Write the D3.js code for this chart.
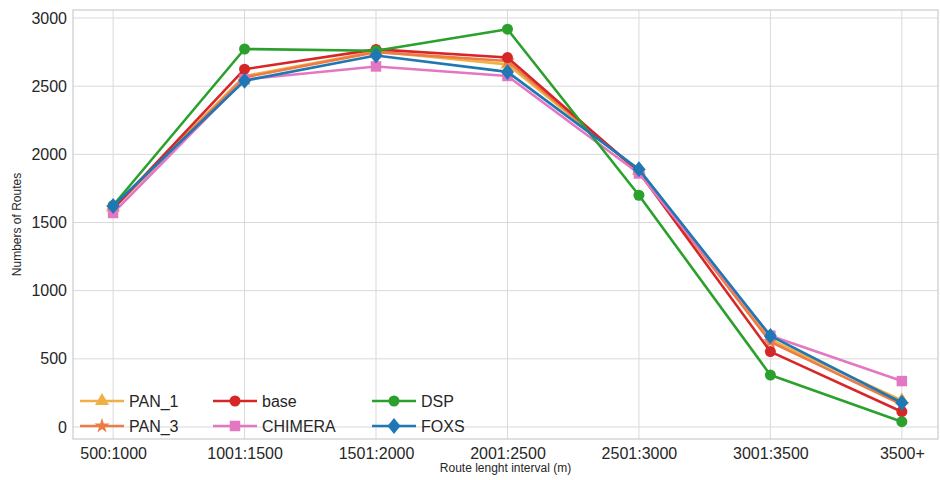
<!DOCTYPE html>
<html>
<head>
<meta charset="utf-8">
<script src="https://cdn.jsdelivr.net/npm/d3@7"></script>
<style>
  body { margin: 0; background: #fff; }
  text { font-family: "Liberation Sans", Arial, sans-serif; }
</style>
</head>
<body>
<div id="chart"></div>
<script>
// data
var categories = ["500:1000", "1001:1500", "1501:2000", "2001:2500", "2501:3000", "3001:3500", "3500+"];
var pan1 = [1610, 2575, 2755, 2660, 1880, 640, 195];
var pan3 = [1605, 2565, 2750, 2685, 1875, 625, 165];
var base = [1600, 2625, 2770, 2710, 1870, 553, 112];
var chimera = [1570, 2550, 2645, 2575, 1860, 670, 337];
var dsp = [1625, 2773, 2760, 2918, 1700, 381, 39];
var foxs = [1621, 2540, 2725, 2605, 1890, 668, 178];
var yTicks = [0, 500, 1000, 1500, 2000, 2500, 3000];

var series = [
  { name: "PAN_1", values: pan1, color: "#eeb145", marker: "triangle" },
  { name: "PAN_3", values: pan3, color: "#ec7b46", marker: "star" },
  { name: "base", values: base, color: "#d62728", marker: "circle" },
  { name: "CHIMERA", values: chimera, color: "#e377c2", marker: "square" },
  { name: "DSP", values: dsp, color: "#2ca02c", marker: "circle" },
  { name: "FOXS", values: foxs, color: "#1f77b4", marker: "diamond" }
];

var svgWidth = 940;
var svgHeight = 480;
var plot = { left: 73, right: 938, top: 10, bottom: 439 };

var svg = d3.select("#chart")
  .append("svg")
  .attr("width", svgWidth)
  .attr("height", svgHeight);

var x = d3.scaleLinear()
  .domain([-0.305, 6.275])
  .range([plot.left, plot.right]);

var y = d3.scaleLinear()
  .domain([-88, 3059])
  .range([plot.bottom, plot.top]);

// grid
var grid = svg.append("g").attr("stroke", "#d9d9d9").attr("stroke-width", 1);
grid.selectAll(".vg")
  .data(categories)
  .enter()
  .append("line")
  .attr("x1", (d, i) => x(i)).attr("x2", (d, i) => x(i))
  .attr("y1", plot.top).attr("y2", plot.bottom);
grid.selectAll(".hg")
  .data(yTicks)
  .enter()
  .append("line")
  .attr("x1", plot.left).attr("x2", plot.right)
  .attr("y1", d => y(d)).attr("y2", d => y(d));

// frame
svg.append("rect")
  .attr("x", plot.left).attr("y", plot.top)
  .attr("width", plot.right - plot.left)
  .attr("height", plot.bottom - plot.top)
  .attr("fill", "none")
  .attr("stroke", "#cccccc")
  .attr("stroke-width", 1.2);

// axes
var xAxis = d3.axisBottom(x)
  .tickValues(d3.range(categories.length))
  .tickFormat(i => categories[i])
  .tickSize(0)
  .tickPadding(9);
var yAxis = d3.axisLeft(y)
  .tickValues(yTicks)
  .tickFormat(d3.format("d"))
  .tickSize(0)
  .tickPadding(6);

var gx = svg.append("g")
  .attr("transform", `translate(0, ${plot.bottom})`)
  .call(xAxis);
var gy = svg.append("g")
  .attr("transform", `translate(${plot.left}, 0)`)
  .call(yAxis);
[gx, gy].forEach(g => {
  g.select(".domain").remove();
  g.selectAll("text")
    .attr("font-size", "16px")
    .attr("fill", "#262626")
    .style("font-family", "'Liberation Sans', Arial, sans-serif");
});

svg.append("text")
  .attr("x", (plot.left + plot.right) / 2)
  .attr("y", 472)
  .attr("text-anchor", "middle")
  .attr("font-size", "12px")
  .attr("fill", "#262626")
  .text("Route lenght interval (m)");

svg.append("text")
  .attr("transform", `translate(21, ${(plot.top + plot.bottom) / 2}) rotate(-90)`)
  .attr("text-anchor", "middle")
  .attr("font-size", "12px")
  .attr("fill", "#262626")
  .text("Numbers of Routes");

function symbolFor(m) {
  if (m === "triangle") return d3.symbol().type(d3.symbolTriangle).size(85)();
  if (m === "star") return d3.symbol().type(d3.symbolStar).size(70)();
  if (m === "square") return d3.symbol().type(d3.symbolSquare).size(110)();
  if (m === "diamond") return "M0,-8L6.5,0L0,8L-6.5,0Z";
  return d3.symbol().type(d3.symbolCircle).size(95)();
}

var line = d3.line()
  .x((d, i) => x(i))
  .y(d => y(d));

// lines + markers, drawn in series order
series.forEach(s => {
  var g = svg.append("g");
  g.append("path")
    .attr("d", line(s.values))
    .attr("fill", "none")
    .attr("stroke", s.color)
    .attr("stroke-width", 2.6)
    .attr("stroke-linejoin", "round");
  g.selectAll("path.mk")
    .data(s.values)
    .enter()
    .append("path")
    .attr("class", "mk")
    .attr("d", symbolFor(s.marker))
    .attr("transform", (d, i) => `translate(${x(i)}, ${y(d)})`)
    .attr("fill", s.color);
});

// legend: 3 columns, filled column-wise
var legendCols = [80, 213, 372];
var legendRows = [401, 426];
var legend = svg.append("g");
series.forEach((s, k) => {
  var cx = legendCols[Math.floor(k / 2)];
  var cy = legendRows[k % 2];
  var item = legend.append("g").attr("transform", `translate(${cx}, ${cy})`);
  item.append("line")
    .attr("x1", 0).attr("x2", 44)
    .attr("y1", 0).attr("y2", 0)
    .attr("stroke", s.color)
    .attr("stroke-width", 2.6);
  item.append("path")
    .attr("d", symbolFor(s.marker))
    .attr("transform", "translate(22, 0)")
    .attr("fill", s.color);
  item.append("text")
    .attr("x", 49)
    .attr("y", 0)
    .attr("dy", "0.35em")
    .attr("font-size", "16px")
    .attr("fill", "#262626")
    .text(s.name);
});
</script>
</body>
</html>
